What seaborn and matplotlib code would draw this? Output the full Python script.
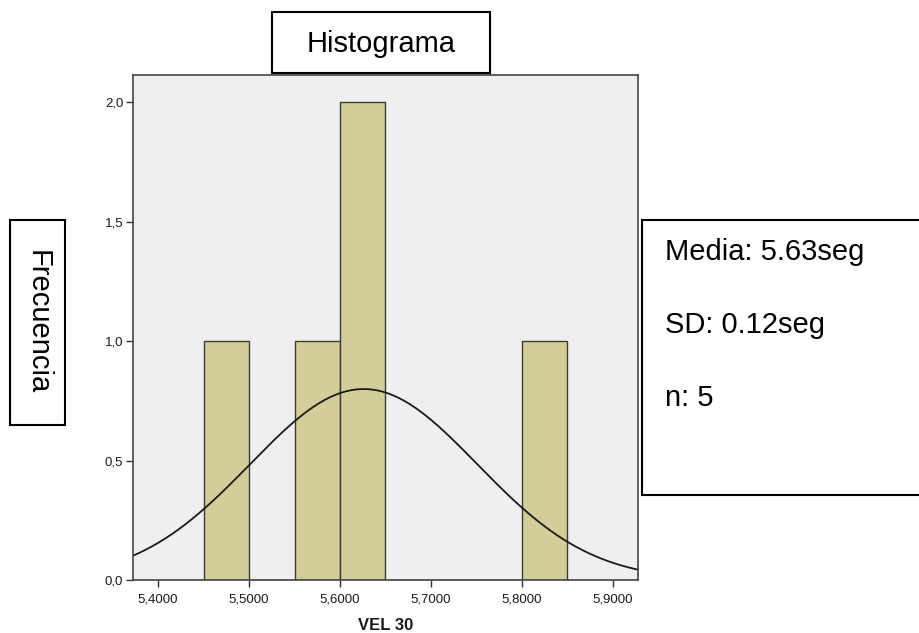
import numpy as np
import pandas as pd
import seaborn as sns
import matplotlib
matplotlib.use("Agg")
import matplotlib.pyplot as plt
from matplotlib.patches import Rectangle
from matplotlib.ticker import FuncFormatter, FixedLocator

# VEL 30 times (seconds)
vel30 = [5.475, 5.585, 5.615, 5.635, 5.820]
bin_width = 0.05
bin_range = (5.45, 5.85)
x_ticks = [5.4, 5.5, 5.6, 5.7, 5.8, 5.9]
y_ticks = [0.0, 0.5, 1.0, 1.5, 2.0]

df = pd.DataFrame({"VEL 30": vel30})

sns.set_theme(style="white")
plt.rcParams["font.family"] = ["Liberation Sans", "DejaVu Sans"]
plt.rcParams["text.color"] = "black"

fig = plt.figure(figsize=(9.2, 6.33), dpi=100)
ax = fig.add_axes([133 / 920, 53 / 633, 505 / 920, 505 / 633])
ax.set_facecolor("#EFEFEF")

sns.histplot(data=df, x="VEL 30", binwidth=bin_width, binrange=bin_range,
             color="#D3CE98", alpha=1.0, edgecolor="#3a3a3a", linewidth=1.0, ax=ax)

# fitted normal curve, scaled to counts
mean = np.mean(vel30)
sd = np.std(vel30, ddof=1)
xs = np.linspace(5.3725, 5.9275, 400)
ys = len(vel30) * bin_width * np.exp(-0.5 * ((xs - mean) / sd) ** 2) / (sd * np.sqrt(2 * np.pi))
sns.lineplot(x=xs, y=ys, color="#1a1a1a", linewidth=1.3, ax=ax)

ax.set_xlim(5.3725, 5.9275)
ax.set_ylim(0, 2.113)
ax.xaxis.set_major_locator(FixedLocator(x_ticks))
ax.yaxis.set_major_locator(FixedLocator(y_ticks))
ax.xaxis.set_major_formatter(FuncFormatter(lambda v, p: f"{v:.4f}".replace(".", ",")))
ax.yaxis.set_major_formatter(FuncFormatter(lambda v, p: f"{v:.1f}".replace(".", ",")))
ax.tick_params(axis="both", direction="out", length=5, width=1, colors="#333333",
               labelsize=9.5, labelcolor="#1a1a1a")
ax.tick_params(axis="x", pad=5)
ax.tick_params(axis="y", pad=2)
ax.tick_params(left=True, bottom=True)
for s in ax.spines.values():
    s.set_visible(True)
    s.set_color("#444444")
    s.set_linewidth(1.2)
ax.set_ylabel("")
ax.set_xlabel("VEL 30", fontsize=12, fontweight="bold", color="#1a1a1a", labelpad=9)

# title box
fig.patches.append(Rectangle((272 / 920, 560 / 633), 218 / 920, 61 / 633,
                             transform=fig.transFigure, facecolor="white",
                             edgecolor="black", linewidth=1.5))
fig.text(381 / 920, 589 / 633, "Histograma", fontsize=21, ha="center", va="center")

# y-axis label box
fig.patches.append(Rectangle((10 / 920, 208 / 633), 55 / 920, 205 / 633,
                             transform=fig.transFigure, facecolor="white",
                             edgecolor="black", linewidth=1.5))
fig.text(38 / 920, 311 / 633, "Frecuencia", fontsize=21, rotation=270,
         ha="center", va="center")

# summary statistics box
fig.patches.append(Rectangle((642 / 920, 138 / 633), 300 / 920, 275 / 633,
                             transform=fig.transFigure, facecolor="white",
                             edgecolor="black", linewidth=1.5))
stats_lines = ["Media: 5.63seg", "SD: 0.12seg", "n: 5"]
for i, line in enumerate(stats_lines):
    fig.text(665 / 920, (633 - 252 - i * 73) / 633, line, fontsize=21,
             ha="left", va="center")

fig.savefig("out.png", dpi=100)
